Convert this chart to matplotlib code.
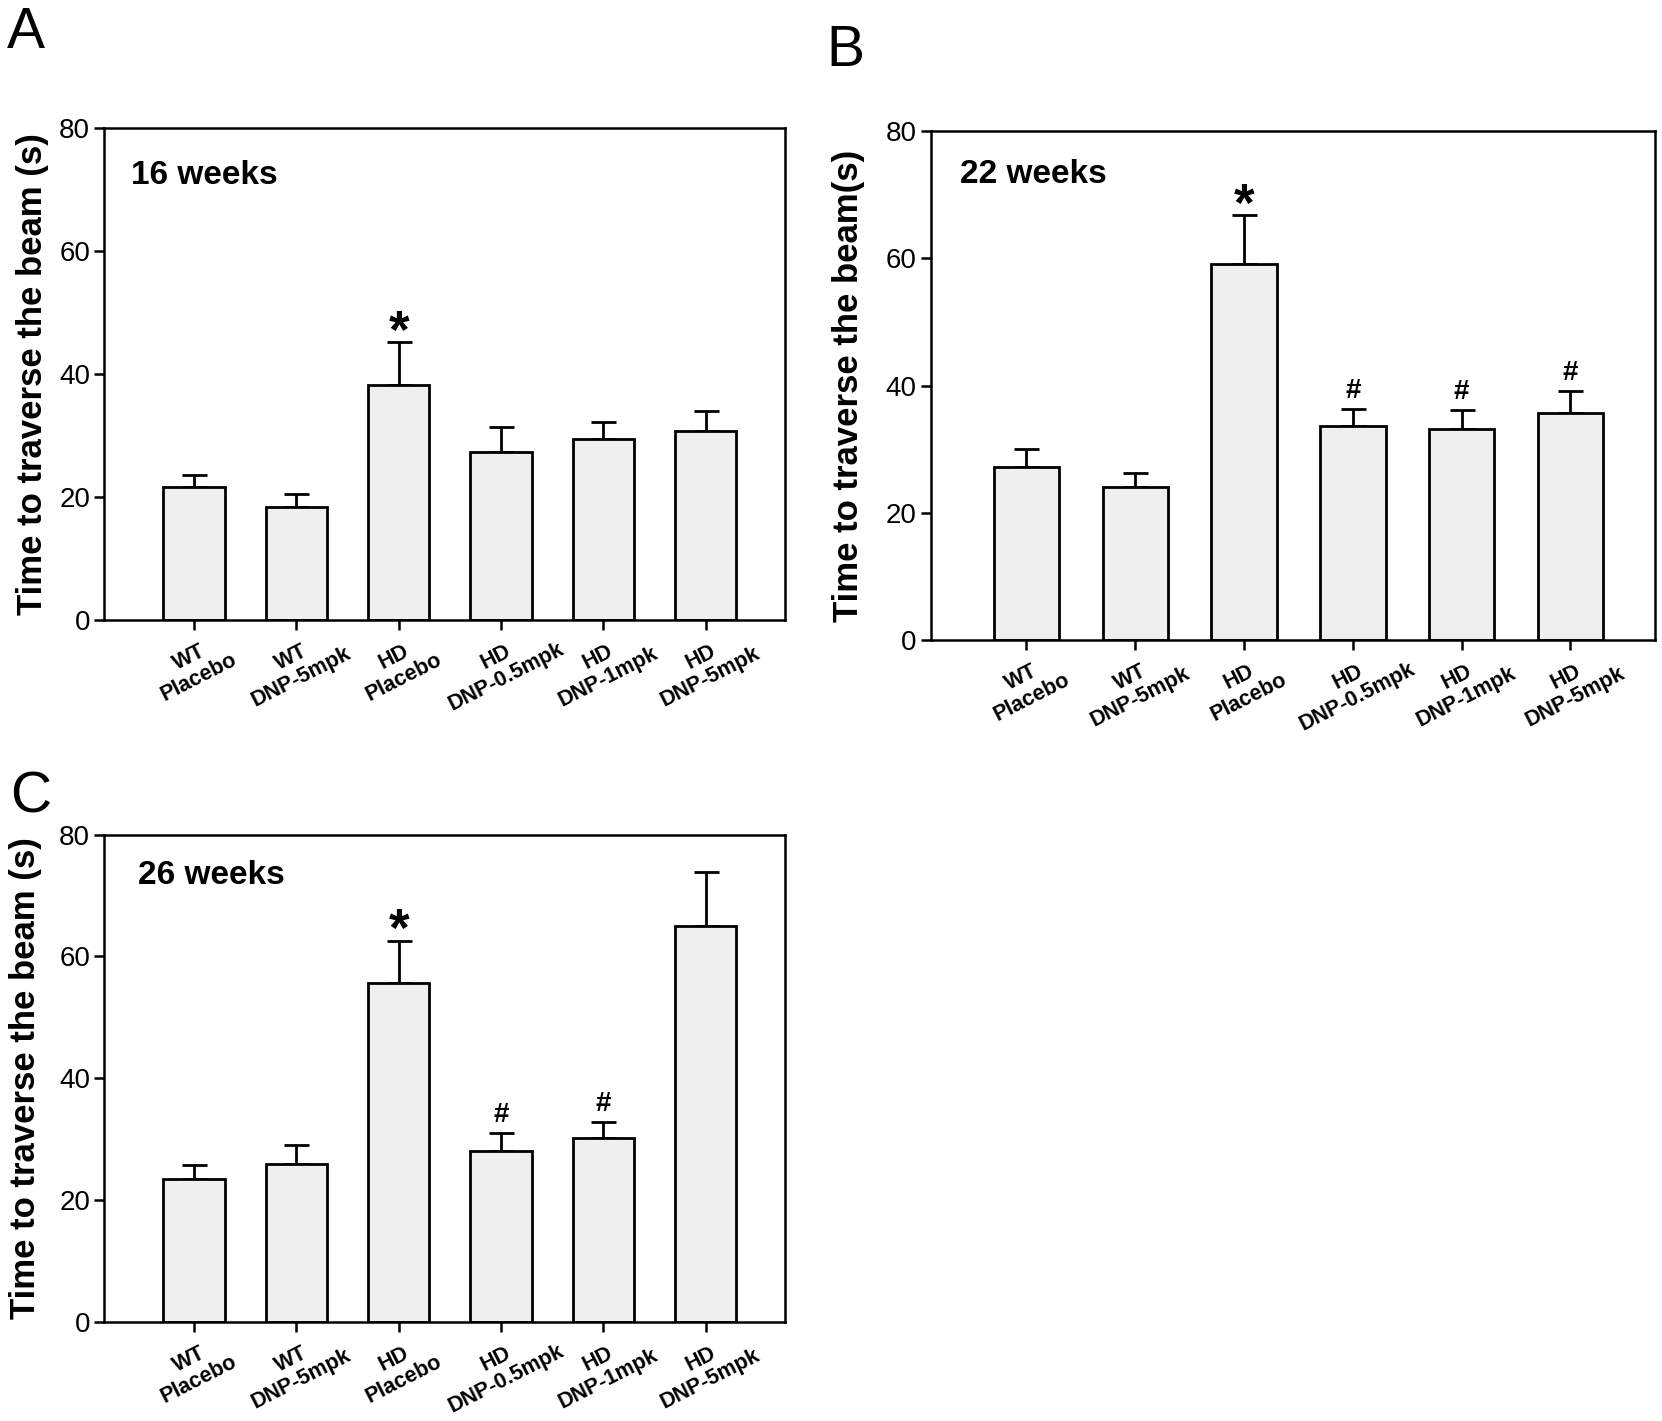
import matplotlib
matplotlib.use("Agg")
import matplotlib.pyplot as plt
import numpy as np

plt.rcParams['font.family'] = ['Liberation Sans Narrow', 'Liberation Sans', 'DejaVu Sans']
BOLD = ['Liberation Sans', 'DejaVu Sans']

groups = ['WT\nPlacebo', 'WT\nDNP-5mpk', 'HD\nPlacebo', 'HD\nDNP-0.5mpk', 'HD\nDNP-1mpk', 'HD\nDNP-5mpk']

# 16 weeks
mean_a = [21.6, 18.4, 38.3, 27.4, 29.5, 30.7]
sem_a = [2.0, 2.1, 6.9, 4.0, 2.7, 3.3]
marks_a = ['', '', '*', '', '', '']

# 22 weeks
mean_b = [27.2, 24.0, 59.2, 33.7, 33.2, 35.7]
sem_b = [2.8, 2.3, 7.6, 2.6, 3.0, 3.5]
marks_b = ['', '', '*', '#', '#', '#']

# 26 weeks
mean_c = [23.5, 26.0, 55.6, 28.1, 30.2, 65.0]
sem_c = [2.3, 3.1, 7.0, 2.9, 2.6, 8.9]
marks_c = ['', '', '*', '#', '#', '']

yticks = [0, 20, 40, 60, 80]


def panel(ax, means, sems, marks, title, ylabel, tx=0.04, ty=0.905, lpad=10):
    x = np.arange(len(groups))
    means = np.array(means)
    sems = np.array(sems)
    ax.bar(x, means, width=0.6, color='#efefef', edgecolor='black', linewidth=2, zorder=2,
           yerr=[np.zeros_like(sems), sems],
           error_kw=dict(ecolor='black', elinewidth=2, capsize=9, capthick=2, zorder=1))
    for xi, m, s, mk in zip(x, means, sems, marks):
        if mk == '*':
            ax.annotate('*', (xi, m + s), xytext=(0, -4), textcoords='offset points',
                        ha='center', va='baseline', fontsize=38, fontweight='bold', family=BOLD)
        elif mk == '#':
            ax.annotate('#', (xi, m + s), xytext=(0, 8), textcoords='offset points',
                        ha='center', va='baseline', fontsize=20, fontweight='bold', family=BOLD)
    ax.set_xlim(-0.88, 5.78)
    ax.set_ylim(0, 80)
    ax.set_yticks(yticks)
    ax.set_yticklabels([str(t) for t in yticks], fontsize=20)
    ax.set_xticks(x)
    ax.set_xticklabels(groups, rotation=27, ha='center', va='center', rotation_mode='anchor',
                       fontsize=15.5, fontweight='bold', family=BOLD, linespacing=1.05)
    ax.tick_params(axis='both', direction='out', length=7, width=1.8)
    ax.tick_params(axis='y', pad=3)
    ax.tick_params(axis='x', pad=27)
    for sp in ax.spines.values():
        sp.set_linewidth(1.8)
    ax.set_ylabel(ylabel, fontsize=25, fontweight='bold', family=BOLD, labelpad=lpad)
    ax.text(tx, ty, title, transform=ax.transAxes, fontsize=24, fontweight='bold',
            va='center', ha='left', family=BOLD)


fig = plt.figure(figsize=(16.62, 14.21), dpi=100)
ax_a = fig.add_axes([0.0626, 0.5637, 0.410, 0.346])
ax_b = fig.add_axes([0.560, 0.5496, 0.436, 0.358])
ax_c = fig.add_axes([0.0626, 0.0697, 0.410, 0.343])

panel(ax_a, mean_a, sem_a, marks_a, '16 weeks', 'Time to traverse the beam (s)', lpad=7)
panel(ax_b, mean_b, sem_b, marks_b, '22 weeks', 'Time to traverse the beam(s)', ty=0.915, lpad=15)
panel(ax_c, mean_c, sem_c, marks_c, '26 weeks', 'Time to traverse the beam (s)', tx=0.05, ty=0.915, lpad=12)

for lbl, xx, yy in [('A', 0.004, 0.966), ('B', 0.497, 0.9536), ('C', 0.006, 0.428)]:
    fig.text(xx, yy, lbl, fontsize=41, va='baseline', ha='left', family=BOLD)

fig.savefig('out.png', dpi=100, facecolor='white')
